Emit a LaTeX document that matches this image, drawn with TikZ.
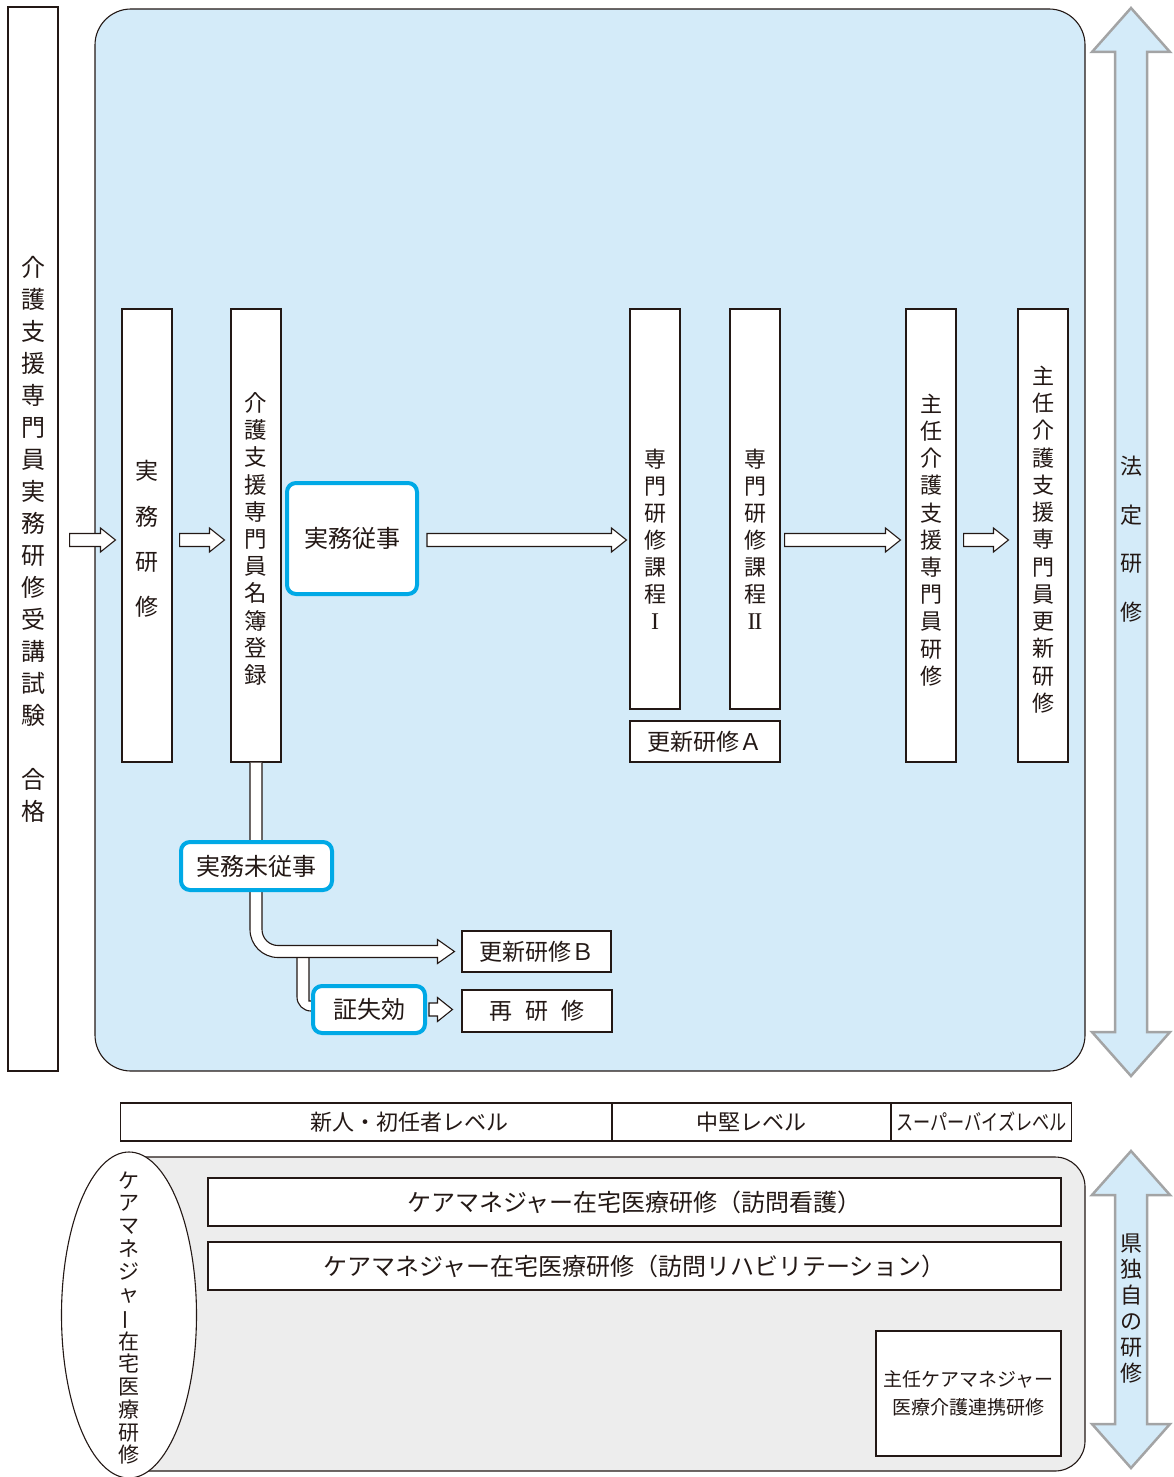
\documentclass[tikz,border=0pt]{standalone}
\usepackage{fontspec}
\setmainfont{Noto Sans CJK JP}
\newfontfamily\romanfont{Liberation Serif}
\usetikzlibrary{calc,positioning}

\definecolor{ink}{HTML}{231815}
\definecolor{bluebg}{HTML}{D4EBF9}
\definecolor{cyanline}{HTML}{00A9E6}
\definecolor{grayfill}{HTML}{EDEDED}
\definecolor{arrowgray}{HTML}{A3A4A5}

\newcommand\tatebo{\rotatebox[origin=c]{90}{ー}}
\newcommand\romI{{\romanfont\fontsize{24}{27}\selectfont I}}
\newcommand\romII{{\romanfont\fontsize{24}{27}\selectfont I\kern-0.06em I}}

\tikzset{
  colbox/.style={draw=ink, fill=white, line width=1.1pt, inner sep=0pt, minimum width=50pt},
  vtext/.style 2 args={align=center, inner sep=0pt, text=ink, font=\fontsize{#1}{#2}\selectfont},
  bluekey/.style={draw=cyanline, fill=white, line width=4pt, rounded corners=9pt, inner sep=0pt,
    text=ink, font=\fontsize{24}{28}\selectfont},
  smallbox/.style={draw=ink, fill=white, line width=1.1pt, inner sep=0pt, text=ink,
    font=\fontsize{23}{28}\selectfont},
  pipe/.style={draw=ink, fill=white, line width=1.1pt, line join=miter},
  bigarr/.style={draw=arrowgray, fill=bluebg, line width=2.5pt, line join=miter},
  blockarr/.style 2 args={draw=ink, fill=white, line width=1.1pt, line join=miter,
    to path={let \p1=(\tikztostart), \p2=(\tikztotarget) in
      (\x1+#1,\y1+6.5pt) -- (\x2-#2-15pt,\y1+6.5pt) -- (\x2-#2-15pt,\y1+12pt)
      -- (\x2-#2,\y1) -- (\x2-#2-15pt,\y1-12pt) -- (\x2-#2-15pt,\y1-6.5pt)
      -- (\x1+#1,\y1-6.5pt) -- cycle}},
}

\begin{document}
\begin{tikzpicture}[x=1pt,y=-1pt]

    \def\ya{540}
    \useasboundingbox (0,0) rectangle (1173,1477);

    %Fondo
    \draw[draw=ink, fill=bluebg, line width=1.1pt, rounded corners=36pt] (95,9) rectangle (1085,1071);

    %Columnas
    \node[colbox, minimum height=1064pt] (exam) at (33,539) {};
    \node[colbox, minimum height=453pt] (jitsumu) at (147,535.5) {};
    \node[colbox, minimum height=453pt] (meibo) at (256,535.5) {};
    \node[colbox, minimum height=400pt] (kadai1) at (655,509) {};
    \node[colbox, minimum height=400pt] (kadai2) at (755,509) {};
    \node[colbox, minimum height=453pt] (shunin) at (931,535.5) {};
    \node[colbox, minimum height=453pt] (koshin) at (1043,535.5) {};

    \node[vtext={24}{32}] (t-exam) at (33,539) {介\\護\\支\\援\\専\\門\\員\\実\\務\\研\\修\\受\\講\\試\\験\\[32pt]合\\格};
    \node[vtext={23}{45.3}] (t-jitsumu) at (147,539) {実\\務\\研\\修};
    \node[vtext={22.5}{27.2}] (t-meibo) at (256,539) {介\\護\\支\\援\\専\\門\\員\\名\\簿\\登\\録};
    \node[vtext={22}{27}] (t-kadai1) at (655,539) {専\\門\\研\\修\\課\\程\\\romI};
    \node[vtext={22}{27}] (t-kadai2) at (755,539) {専\\門\\研\\修\\課\\程\\\romII};
    \node[vtext={22}{27.2}] (t-shunin) at (931,540) {主\\任\\介\\護\\支\\援\\専\\門\\員\\研\\修};
    \node[vtext={22}{27.25}] (t-koshin) at (1043,539.5) {主\\任\\介\\護\\支\\援\\専\\門\\員\\更\\新\\研\\修};

    %Cajas
    \node[bluekey, minimum width=130pt, minimum height=111pt] (jimu) at (352,538.5) {実務従事};
    \node[smallbox, minimum width=150pt, minimum height=41pt] (koshinA) at (705,741.5) {更新研修Ａ};
    \node[smallbox, minimum width=149pt, minimum height=41pt] (koshinB) at (536.5,951.5) {更新研修Ｂ};
    \node[smallbox, minimum width=150pt, minimum height=42pt] (saiken) at (537,1011) {再\hspace{0.55em}研\hspace{0.55em}修};

    %Flechas
    \path[blockarr={11pt}{6pt}] (exam.east |- 0,\ya) to (jitsumu.west |- 0,\ya);
    \path[blockarr={7pt}{6pt}] (jitsumu.east |- 0,\ya) to (meibo.west |- 0,\ya);
    \path[blockarr={8pt}{3pt}] (jimu.east |- 0,\ya) to (kadai1.west |- 0,\ya);
    \path[blockarr={4pt}{5pt}] (kadai2.east |- 0,\ya) to (shunin.west |- 0,\ya);
    \path[blockarr={7pt}{9pt}] (shunin.east |- 0,\ya) to (koshin.west |- 0,\ya);

    %Tubo
    \path[pipe] let \p1=(meibo.south), \p2=(saiken.west), \p3=(koshinB.west) in
      (\x1+41pt,\y3-6pt) -- (\x1+41pt,\y2+14pt) arc[start angle=180, end angle=270, radius=14pt]
      -- (\x1+70pt,\y2) -- (\x1+70pt,\y2+10pt) -- (\x1+53pt,\y2+10pt) -- (\x1+53pt,\y3-6pt);
    \path[pipe] let \p1=(meibo.south), \p2=(koshinB.west) in
      (\x1-6pt,\y1) -- (\x1-6pt,\y2+22pt) arc[start angle=180, end angle=270, radius=28pt]
      -- (\x2-24pt,\y2-6pt) -- (\x2-24pt,\y2-12pt) -- (\x2-7pt,\y2) -- (\x2-24pt,\y2+12pt)
      -- (\x2-24pt,\y2+6pt) -- (\x1+22pt,\y2+6pt) arc[start angle=270, end angle=180, radius=16pt]
      -- (\x1+6pt,\y1);

    \node[bluekey, minimum width=151pt, minimum height=48pt] (mijimu) at (256.5,866) {実務未従事};
    \node[bluekey, minimum width=112pt, minimum height=47pt] (sho) at (369,1009.5) {証失効};
    \path[blockarr={2pt}{9pt}] (sho.east) to (saiken.west |- sho.east);

    %Flechas dobles
    \draw[bigarr] (1131,8) -- (1170,52) -- (1147,52) -- (1147,1032) -- (1170,1032) -- (1131,1076)
      -- (1092,1032) -- (1115,1032) -- (1115,52) -- (1092,52) -- cycle;
    \node[vtext={22}{48.7}] (houtei) at (1131,539) {法\\定\\研\\修};
    \draw[bigarr] (1131,1151) -- (1170,1195) -- (1147,1195) -- (1147,1424) -- (1170,1424) -- (1131,1468)
      -- (1092,1424) -- (1115,1424) -- (1115,1195) -- (1092,1195) -- cycle;
    \node[vtext={22}{26}] (kendoku) at (1131,1309) {県\\独\\自\\の\\研\\修};

    %Niveles
    \node[smallbox, minimum width=491pt, minimum height=38pt, anchor=west] (lev1) at (120,1122) {};
    \node[smallbox, minimum width=278pt, minimum height=38pt, right=0pt of lev1, font=\fontsize{22}{26}\selectfont] (lev2) {中堅レベル};
    \node[smallbox, minimum width=180pt, minimum height=38pt, right=0pt of lev2, font=\fontsize{22}{26}\selectfont] (lev3) {\scalebox{0.78}[1]{スーパーバイズレベル}};
    \node[vtext={22}{26}] (t-lev1) at (409,1122) {新人・初任者レベル};

    %Cilindro
    \draw[draw=ink, fill=grayfill, line width=1.1pt, rounded corners=30pt] (129,1157) -- (1085,1157) -- (1085,1471) -- (129,1471);
    \draw[draw=ink, fill=white, line width=1.1pt] (129,1315) ellipse[x radius=67.5pt, y radius=163pt];
    \node[vtext={21}{22.75}] (zaitaku) at (129,1318) {ケ\\ア\\マ\\ネ\\ジ\\ャ\\\tatebo\\在\\宅\\医\\療\\研\\修};

    \node[smallbox, minimum width=853pt, minimum height=48pt, font=\fontsize{24}{28}\selectfont] (houmon1) at (634.5,1202) {ケアマネジャー在宅医療研修（訪問看護）};
    \node[smallbox, minimum width=853pt, minimum height=48pt, font=\fontsize{24}{28}\selectfont] (houmon2) at (634.5,1266) {ケアマネジャー在宅医療研修（訪問リハビリテーション）};
    \node[smallbox, minimum width=185pt, minimum height=125pt, align=center, font=\fontsize{19}{28}\selectfont] (renkei) at (968.5,1393.5) {主任ケアマネジャー\\医療介護連携研修};

\end{tikzpicture}
\end{document}
